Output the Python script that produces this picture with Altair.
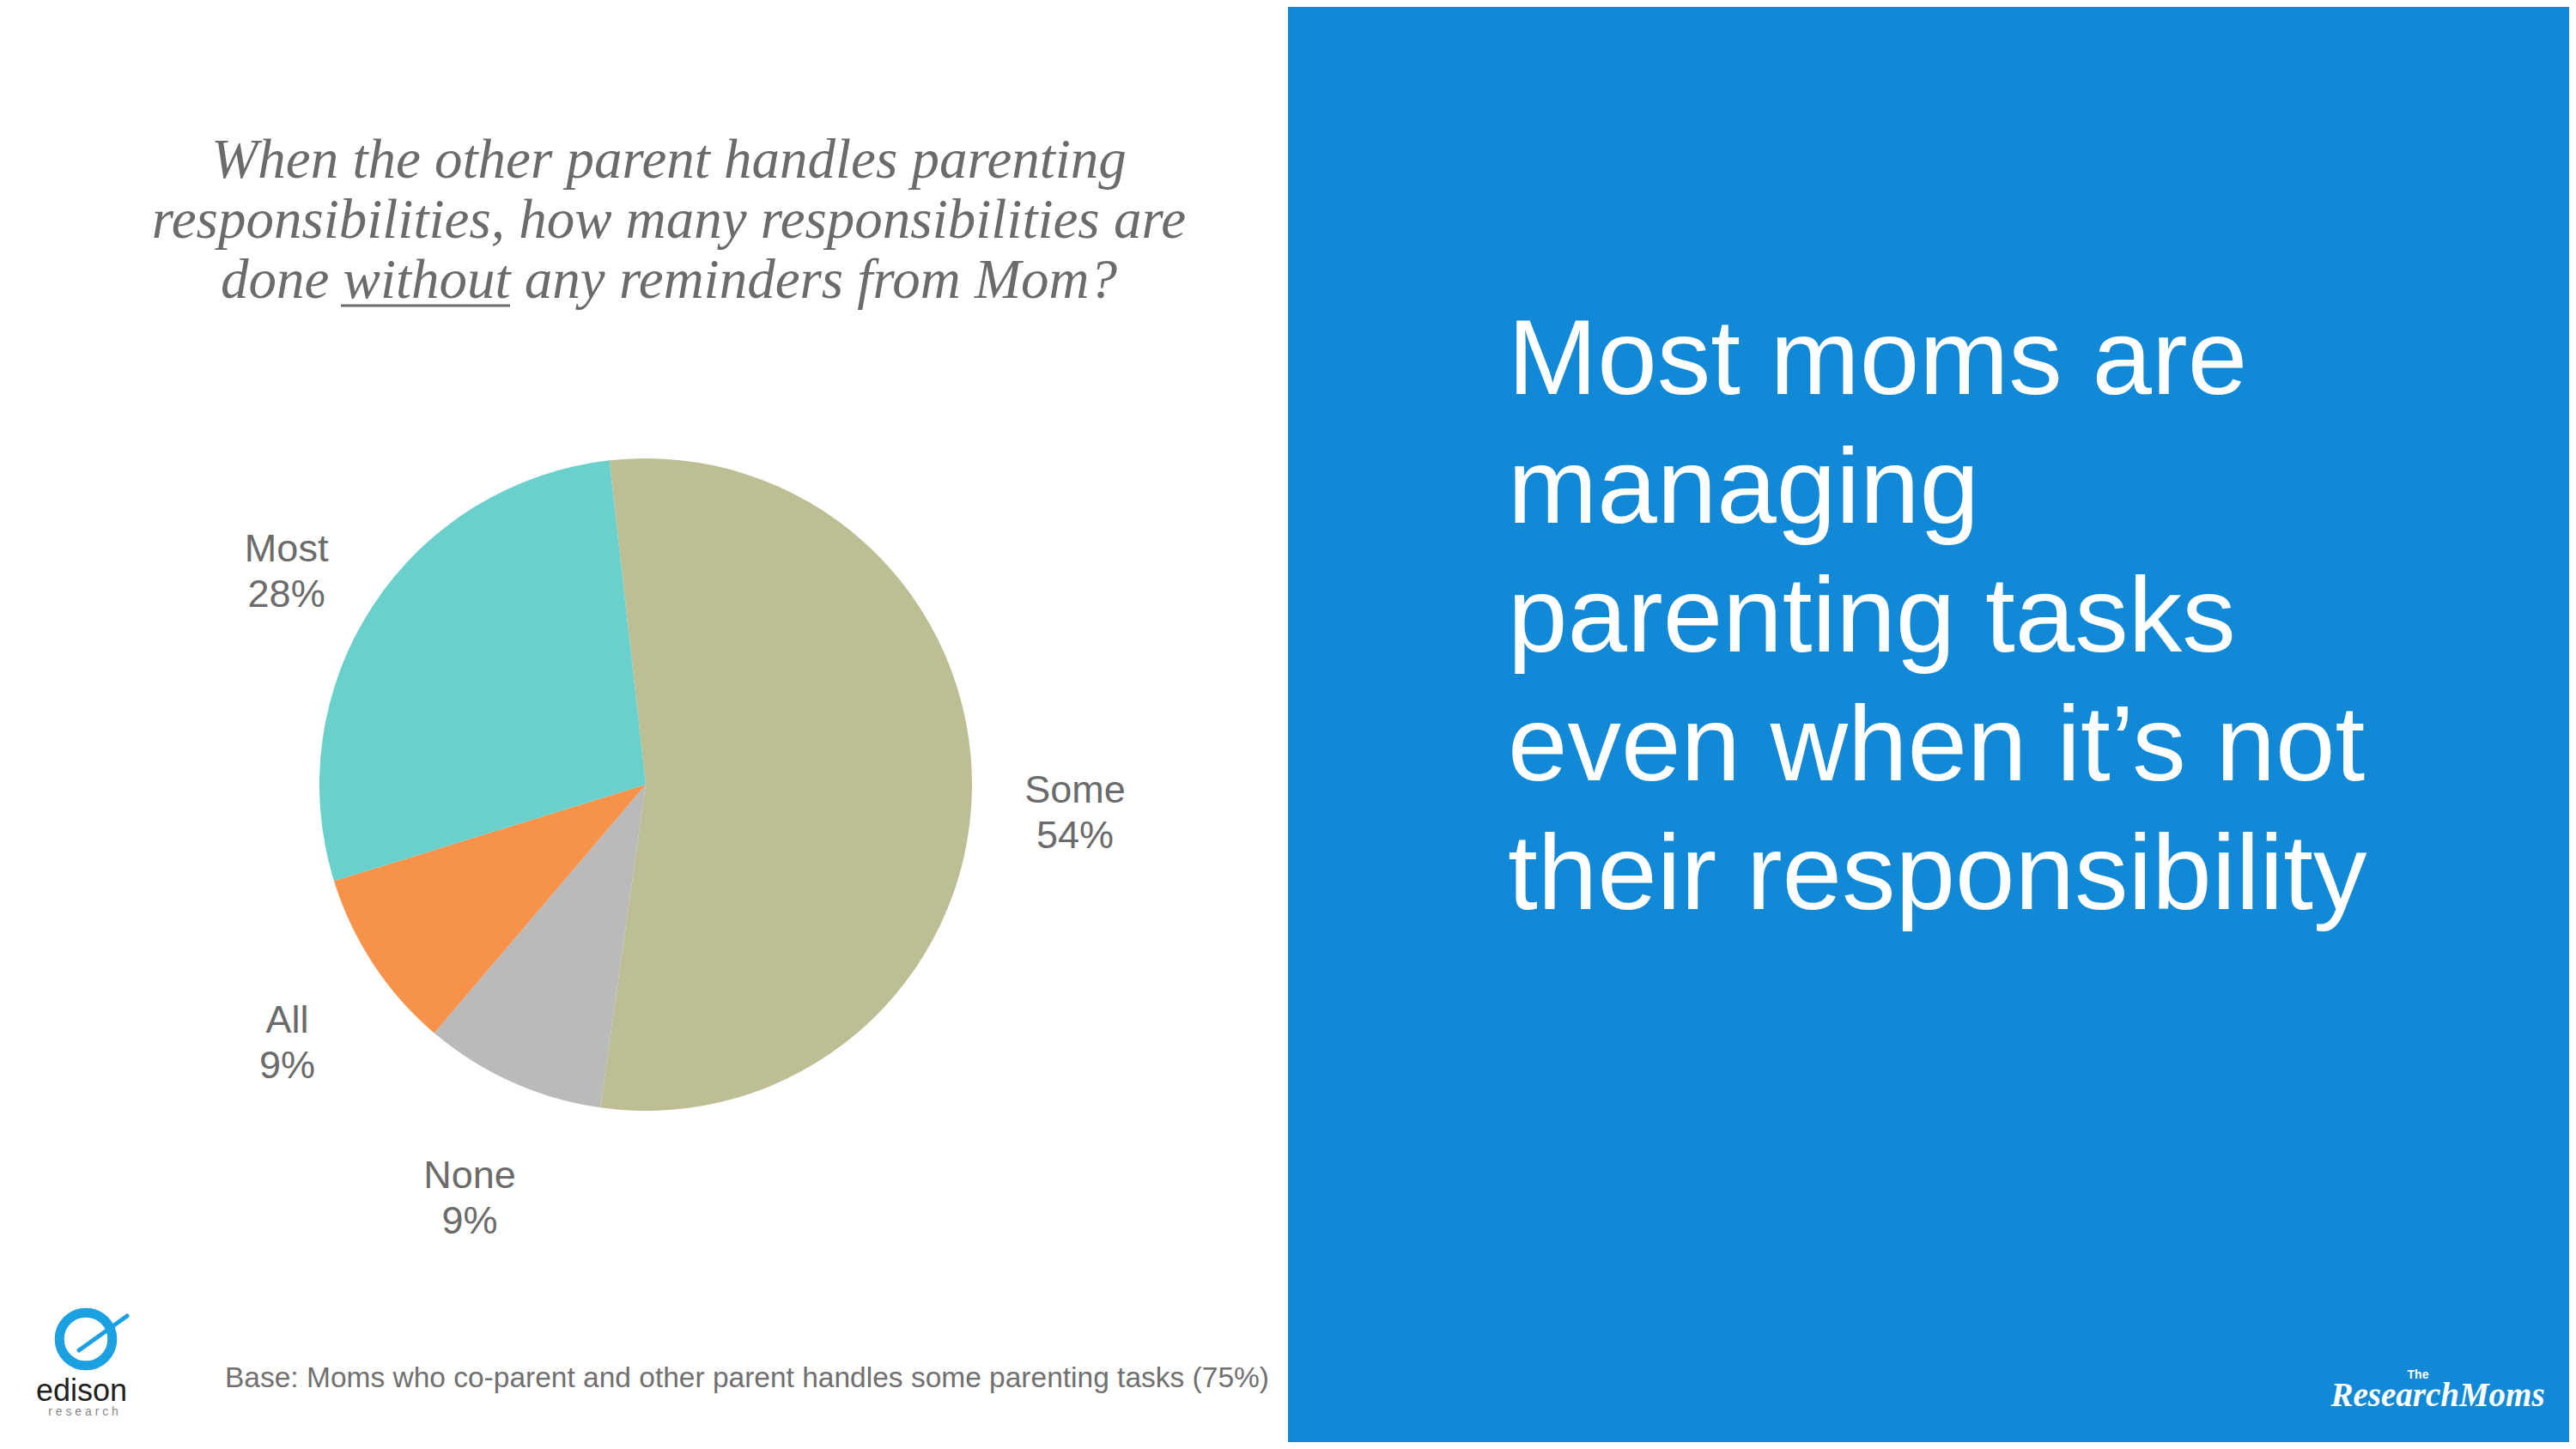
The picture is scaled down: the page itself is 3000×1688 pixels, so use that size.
import altair as alt
import pandas as pd

# ---- data ----
categories = ["Some", "None", "All", "Most"]
values = [54, 9, 9, 28]
colors = ["#BDBE93", "#BABABA", "#F7924A", "#69D0CB"]

title_lines = [
    "When the other parent handles parenting",
    "responsibilities, how many responsibilities are",
    "done without any reminders from Mom?",
]
headline_lines = [
    "Most moms are",
    "managing",
    "parenting tasks",
    "even when it\u2019s not",
    "their responsibility",
]
footnote = "Base: Moms who co-parent and other parent handles some parenting tasks (75%)"

W, H = 2984, 1672
GRAY = "#6b6b6b"
BLUE = "#1289D6"

pie_df = pd.DataFrame({
    "cat": categories,
    "value": values,
    "idx": list(range(len(categories))),
})

theta_scale = alt.Scale(range=[6.1715, 6.1715 + 6.283185])

base = alt.Chart(pie_df).encode(
    theta=alt.Theta("value:Q", stack=True, scale=theta_scale),
    order=alt.Order("idx:Q"),
    x=alt.value(744),
    y=alt.value(906),
)

pie = base.mark_arc(outerRadius=380).encode(
    color=alt.Color("cat:N", scale=alt.Scale(domain=categories, range=colors), legend=None)
)

labels = base.transform_calculate(
    label="datum.cat + '\\n' + datum.value + '%'"
).mark_text(
    radius=500, font="Liberation Sans", fontSize=45, color=GRAY,
    lineBreak="\n", lineHeight=53, align="center", baseline="middle"
).encode(text="label:N")

panel = alt.Chart(pd.DataFrame({"a": [0]})).mark_rect(color=BLUE).encode(
    x=alt.value(1492), x2=alt.value(W), y=alt.value(0), y2=alt.value(H)
)

title = alt.Chart(pd.DataFrame({"t": ["\n".join(title_lines)]})).mark_text(
    font="Liberation Serif", fontStyle="italic", fontSize=65, color=GRAY,
    lineBreak="\n", lineHeight=70, align="center", baseline="alphabetic"
).encode(text="t:N", x=alt.value(771), y=alt.value(199))

underline = alt.Chart(pd.DataFrame({"a": [0]})).mark_rule(color=GRAY, strokeWidth=3).encode(
    x=alt.value(389), x2=alt.value(586), y=alt.value(348)
)

headline = alt.Chart(pd.DataFrame({"t": ["\n".join(headline_lines)]})).mark_text(
    font="Liberation Sans", fontSize=125, color="white",
    lineBreak="\n", lineHeight=150, align="left", baseline="alphabetic"
).encode(text="t:N", x=alt.value(1748), y=alt.value(451))

foot = alt.Chart(pd.DataFrame({"t": [footnote]})).mark_text(
    font="Liberation Sans", fontSize=33.5, color="#707070",
    align="left", baseline="middle"
).encode(text="t:N", x=alt.value(254), y=alt.value(1598))

# edison research logo (approximation)
ring = alt.Chart(pd.DataFrame({"a": [0]})).mark_point(
    shape="circle", filled=False, color="#1BA1E2", strokeWidth=11, size=3800, opacity=1
).encode(x=alt.value(92), y=alt.value(1552))
orbit = alt.Chart(pd.DataFrame({"a": [0]})).mark_rule(
    color="#1BA1E2", strokeWidth=5, strokeCap="round"
).encode(x=alt.value(84), x2=alt.value(140), y=alt.value(1565), y2=alt.value(1525))
edison = alt.Chart(pd.DataFrame({"t": ["edison"]})).mark_text(
    font="Liberation Sans", fontSize=36, color="#231f20", align="center", baseline="alphabetic"
).encode(text="t:N", x=alt.value(87), y=alt.value(1624))
research = alt.Chart(pd.DataFrame({"t": ["r e s e a r c h"]})).mark_text(
    font="Liberation Sans", fontSize=14, color="#8a8a8a", align="center",
    baseline="alphabetic"
).encode(text="t:N", x=alt.value(89), y=alt.value(1641))

# The ResearchMoms logo (approximation)
rm = alt.Chart(pd.DataFrame({"t": ["ResearchMoms"]})).mark_text(
    font="Liberation Serif", fontStyle="italic", fontWeight="bold", fontSize=39,
    color="white", align="center", baseline="middle"
).encode(text="t:N", x=alt.value(2831), y=alt.value(1618))
the = alt.Chart(pd.DataFrame({"t": ["The"]})).mark_text(
    font="Liberation Sans", fontWeight="bold", fontSize=14,
    color="white", align="center", baseline="middle"
).encode(text="t:N", x=alt.value(2808), y=alt.value(1594))

chart = alt.layer(
    panel, pie, labels, title, underline, headline, foot, ring, orbit, edison, research, rm, the
).properties(
    width=W, height=H, padding=0, background="white"
).configure_view(stroke=None)

chart.save("out.html", embed_options={"renderer": "svg", "actions": False})
